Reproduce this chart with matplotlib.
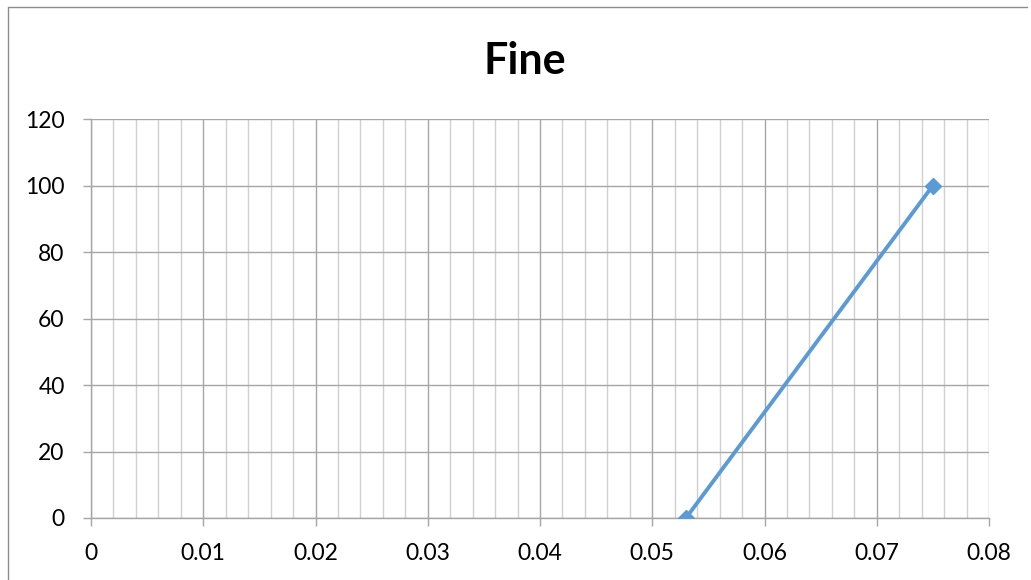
import matplotlib
matplotlib.use("Agg")
import matplotlib.pyplot as plt
from matplotlib.ticker import MultipleLocator
from matplotlib.lines import Line2D

# data
x_vals = [0.053, 0.075]
y_vals = [0, 100]
title = "Fine"

plt.rcParams["font.family"] = ["Lato", "DejaVu Sans"]

fig = plt.figure(figsize=(10.31, 5.8), dpi=100)
ax = fig.add_axes([0.0883, 0.1069, 0.871, 0.6879])

ax.plot(x_vals, y_vals, color="#5B9BD5", linewidth=2.8,
        marker="D", markersize=8.5, zorder=3)

ax.set_xlim(0, 0.08)
ax.set_ylim(0, 120)
ax.xaxis.set_major_locator(MultipleLocator(0.01))
ax.xaxis.set_minor_locator(MultipleLocator(0.002))
ax.yaxis.set_major_locator(MultipleLocator(20))

def fmt_x(v, pos):
    return "0" if abs(v) < 1e-12 else f"{v:.2f}"
ax.xaxis.set_major_formatter(plt.FuncFormatter(fmt_x))

ax.grid(True, which="major", color="#A6A6A6", linewidth=1.0)
ax.grid(True, which="minor", axis="x", color="#D0D0D0", linewidth=1.0)
ax.set_axisbelow(True)

for s in ["top", "right"]:
    ax.spines[s].set_visible(False)
for s in ["left", "bottom"]:
    ax.spines[s].set_color("#A6A6A6")
    ax.spines[s].set_linewidth(1.0)

ax.tick_params(axis="both", which="major", length=6, color="#A6A6A6",
               labelsize=16.5, width=1.0)
ax.tick_params(axis="x", which="major", pad=12)
ax.tick_params(axis="y", which="major", pad=13)
ax.tick_params(axis="x", which="minor", length=0)

fig.text(0.509, 0.895, title, ha="center", va="center",
         fontsize=31, fontweight="bold")

# grey chart-area border: only left and top edges are visible
bx, by, bx2 = 8 / 1031, 1 - 7 / 580, 1027 / 1031
fig.lines.append(Line2D([bx, bx, bx2], [0, by, by], transform=fig.transFigure,
                        color="#8C8C8C", linewidth=1.0))

fig.savefig("out.png", dpi=100)
